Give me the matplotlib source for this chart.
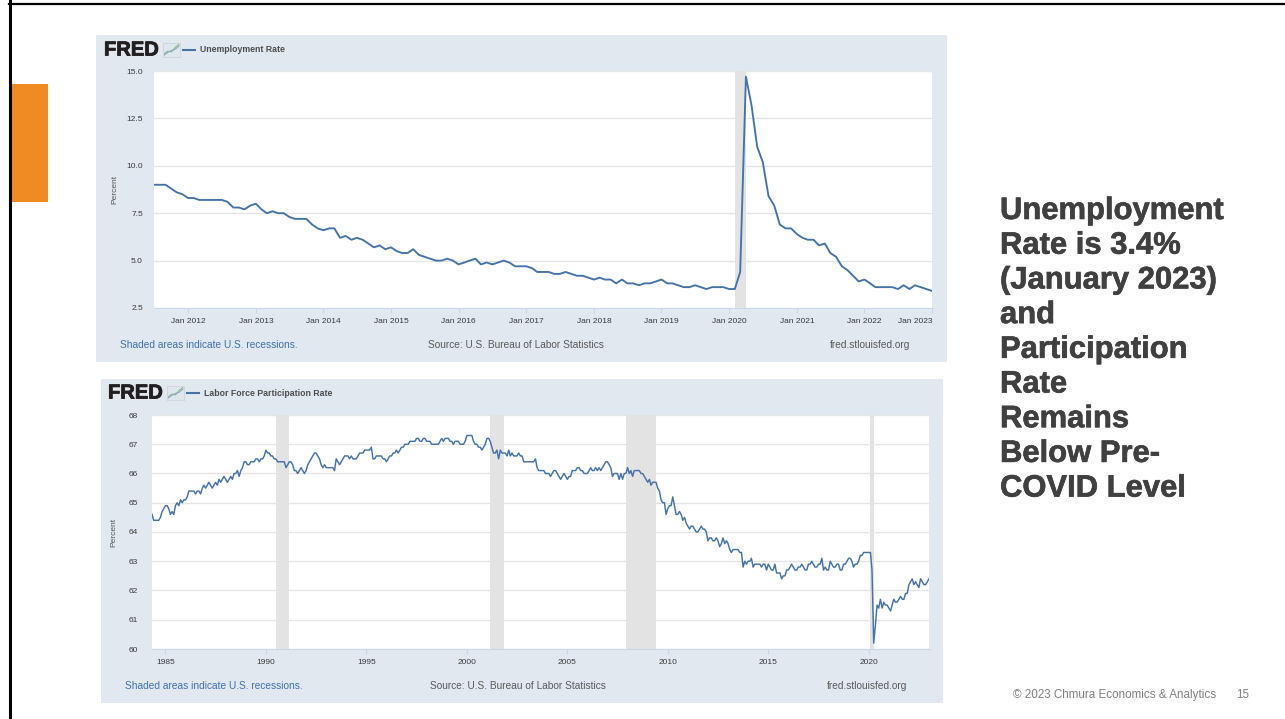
import pandas as pd
import matplotlib.pyplot as plt
import matplotlib.dates as mdates
import matplotlib.patheffects as pe
from matplotlib.patches import Rectangle
from matplotlib.lines import Line2D

plt.rcParams['font.family'] = ['Liberation Sans', 'DejaVu Sans']

W, H = 1285, 719

# Civilian unemployment rate (%), monthly from Jul 2011 to Jan 2023
unrate_start = '2011-07-01'
unrate = [
    9.0, 9.0, 9.0, 8.8, 8.6, 8.5,                                # 2011
    8.3, 8.3, 8.2, 8.2, 8.2, 8.2, 8.2, 8.1, 7.8, 7.8, 7.7, 7.9,  # 2012
    8.0, 7.7, 7.5, 7.6, 7.5, 7.5, 7.3, 7.2, 7.2, 7.2, 6.9, 6.7,  # 2013
    6.6, 6.7, 6.7, 6.2, 6.3, 6.1, 6.2, 6.1, 5.9, 5.7, 5.8, 5.6,  # 2014
    5.7, 5.5, 5.4, 5.4, 5.6, 5.3, 5.2, 5.1, 5.0, 5.0, 5.1, 5.0,  # 2015
    4.8, 4.9, 5.0, 5.1, 4.8, 4.9, 4.8, 4.9, 5.0, 4.9, 4.7, 4.7,  # 2016
    4.7, 4.6, 4.4, 4.4, 4.4, 4.3, 4.3, 4.4, 4.3, 4.2, 4.2, 4.1,  # 2017
    4.0, 4.1, 4.0, 4.0, 3.8, 4.0, 3.8, 3.8, 3.7, 3.8, 3.8, 3.9,  # 2018
    4.0, 3.8, 3.8, 3.7, 3.6, 3.6, 3.7, 3.6, 3.5, 3.6, 3.6, 3.6,  # 2019
    3.5, 3.5, 4.4, 14.7, 13.2, 11.0, 10.2, 8.4, 7.9, 6.9, 6.7, 6.7,  # 2020
    6.4, 6.2, 6.1, 6.1, 5.8, 5.9, 5.4, 5.2, 4.7, 4.5, 4.2, 3.9,  # 2021
    4.0, 3.8, 3.6, 3.6, 3.6, 3.6, 3.5, 3.7, 3.5, 3.7, 3.6, 3.5,  # 2022
    3.4,                                                         # 2023
]

# Labor force participation rate (%), monthly from May 1984 to Jan 2023
civpart_start = '1984-05-01'
civpart = [
    64.6, 64.4, 64.4, 64.4, 64.4, 64.5, 64.7, 64.8,                    # 1984
    64.9, 64.9, 64.8, 64.6, 64.7, 64.6, 64.9, 65.0, 64.9, 65.1, 65.0, 65.1,  # 1985
    65.1, 65.2, 65.4, 65.4, 65.4, 65.4, 65.3, 65.4, 65.4, 65.3, 65.5, 65.6,  # 1986
    65.5, 65.6, 65.7, 65.6, 65.5, 65.6, 65.7, 65.6, 65.8, 65.7, 65.8, 65.9,  # 1987
    65.8, 65.7, 65.8, 65.9, 65.8, 66.0, 66.0, 66.1, 65.9, 66.1, 66.2, 66.4,  # 1988
    66.4, 66.3, 66.3, 66.4, 66.4, 66.4, 66.5, 66.5, 66.4, 66.5, 66.5, 66.6,  # 1989
    66.8, 66.7, 66.7, 66.6, 66.6, 66.5, 66.5, 66.4, 66.4, 66.4, 66.4, 66.4,  # 1990
    66.2, 66.3, 66.4, 66.4, 66.3, 66.1, 66.1, 66.0, 66.1, 66.2, 66.1, 66.0,  # 1991
    66.1, 66.3, 66.4, 66.5, 66.6, 66.7, 66.7, 66.6, 66.5, 66.3, 66.2, 66.3,  # 1992
    66.2, 66.2, 66.2, 66.2, 66.2, 66.1, 66.5, 66.4, 66.3, 66.4, 66.5, 66.6,  # 1993
    66.6, 66.6, 66.5, 66.6, 66.5, 66.5, 66.5, 66.6, 66.7, 66.7, 66.7, 66.8,  # 1994
    66.8, 66.8, 66.8, 66.9, 66.5, 66.5, 66.6, 66.6, 66.6, 66.6, 66.5, 66.5,  # 1995
    66.4, 66.5, 66.6, 66.6, 66.7, 66.7, 66.8, 66.7, 66.8, 66.9, 66.9, 67.0,  # 1996
    67.0, 67.0, 67.1, 67.1, 67.1, 67.1, 67.2, 67.2, 67.1, 67.1, 67.2, 67.2,  # 1997
    67.1, 67.1, 67.1, 67.0, 67.0, 67.0, 67.0, 67.0, 67.1, 67.2, 67.1, 67.2,  # 1998
    67.2, 67.2, 67.1, 67.1, 67.0, 67.1, 67.1, 67.1, 67.0, 67.0, 67.0, 67.1,  # 1999
    67.3, 67.3, 67.3, 67.3, 67.1, 67.0, 67.0, 66.9, 66.9, 66.8, 66.9, 67.0,  # 2000
    67.2, 67.2, 67.1, 66.9, 66.7, 66.7, 66.8, 66.5, 66.8, 66.7, 66.7, 66.7,  # 2001
    66.6, 66.8, 66.6, 66.7, 66.6, 66.6, 66.6, 66.7, 66.6, 66.6, 66.4, 66.4,  # 2002
    66.4, 66.4, 66.4, 66.4, 66.4, 66.5, 66.2, 66.1, 66.1, 66.1, 66.1, 66.0,  # 2003
    66.0, 66.0, 65.9, 66.0, 66.1, 66.1, 66.0, 65.9, 65.8, 65.9, 66.0, 65.9,  # 2004
    65.8, 65.9, 65.9, 66.1, 66.1, 66.1, 66.2, 66.2, 66.1, 66.1, 66.0, 66.0,  # 2005
    66.0, 66.1, 66.2, 66.1, 66.1, 66.2, 66.1, 66.2, 66.1, 66.2, 66.3, 66.4,  # 2006
    66.4, 66.3, 66.2, 65.9, 66.0, 66.0, 66.0, 65.8, 66.0, 65.8, 66.0, 66.0,  # 2007
    66.2, 66.0, 66.1, 65.9, 66.1, 66.1, 66.1, 66.1, 66.0, 66.0, 65.9, 65.8,  # 2008
    65.7, 65.8, 65.6, 65.7, 65.7, 65.7, 65.5, 65.4, 65.1, 65.0, 65.0, 64.6,  # 2009
    64.8, 64.9, 64.9, 65.2, 64.9, 64.6, 64.6, 64.7, 64.6, 64.4, 64.5, 64.3,  # 2010
    64.2, 64.1, 64.2, 64.2, 64.1, 64.0, 64.0, 64.1, 64.2, 64.1, 64.1, 64.0,  # 2011
    63.7, 63.8, 63.8, 63.7, 63.7, 63.8, 63.7, 63.5, 63.6, 63.8, 63.6, 63.7,  # 2012
    63.6, 63.4, 63.3, 63.4, 63.4, 63.4, 63.4, 63.3, 63.3, 62.8, 63.0, 62.9,  # 2013
    63.0, 63.0, 63.1, 62.8, 62.9, 62.9, 62.9, 62.9, 62.8, 62.9, 62.9, 62.7,  # 2014
    62.9, 62.8, 62.7, 62.7, 62.9, 62.6, 62.6, 62.6, 62.4, 62.5, 62.5, 62.7,  # 2015
    62.7, 62.8, 62.9, 62.8, 62.7, 62.7, 62.8, 62.8, 62.9, 62.8, 62.7, 62.7,  # 2016
    62.9, 62.9, 63.0, 62.9, 62.8, 62.8, 62.9, 62.9, 63.1, 62.7, 62.8, 62.7,  # 2017
    62.7, 63.0, 62.9, 62.8, 62.8, 62.9, 62.9, 62.7, 62.7, 62.9, 62.9, 63.0,  # 2018
    63.1, 63.1, 63.0, 62.8, 62.9, 62.9, 63.0, 63.2, 63.2, 63.3, 63.3, 63.3,  # 2019
    63.3, 63.3, 62.7, 60.2, 60.8, 61.5, 61.4, 61.7, 61.4, 61.6, 61.5, 61.5,  # 2020
    61.4, 61.3, 61.5, 61.7, 61.6, 61.6, 61.7, 61.8, 61.7, 61.7, 61.9, 61.9,  # 2021
    62.2, 62.3, 62.4, 62.2, 62.3, 62.2, 62.1, 62.4, 62.3, 62.2, 62.2, 62.3,  # 2022
    62.4,                                                                    # 2023
]

# NBER recessions (peak to trough)
recessions = [
    ('1990-07-01', '1991-03-01'),
    ('2001-03-01', '2001-11-01'),
    ('2007-12-01', '2009-06-01'),
    ('2020-02-01', '2020-04-01'),
]

unrate_yticks = [2.5, 5.0, 7.5, 10.0, 12.5, 15.0]
civpart_yticks = [60, 61, 62, 63, 64, 65, 66, 67, 68]
unrate_xtick_years = list(range(2012, 2024))
civpart_xtick_years = list(range(1985, 2021, 5))

side_lines = ['Unemployment', 'Rate is 3.4%', '(January 2023)', 'and',
              'Participation', 'Rate', 'Remains', 'Below Pre-', 'COVID Level']

LINE_BLUE = '#4572a7'
PANEL_BG = '#e1e8f0'
SHADE = '#e3e3e3'
GRID = '#e6e6e6'
AXIS = '#ccd6eb'
TICK_TXT = '#3a3a3a'


def fx(x):
    return x / W


def fy(y):
    return 1 - y / H


def heavy(color, width):
    # thicken bold glyphs a little
    return [pe.withStroke(linewidth=width, foreground=color)]


def add_rect(fig, x0, y0, x1, y1, color, z=-1):
    fig.patches.append(Rectangle((fx(x0), fy(y1)), (x1 - x0) / W, (y1 - y0) / H,
                                 transform=fig.transFigure, color=color,
                                 zorder=z, linewidth=0))


def fred_panel(fig, box, plot_box, title, header_y, logo_x, foot_y, foot_x):
    # panel background
    add_rect(fig, *box, PANEL_BG)

    # logo and series legend
    fig.text(fx(logo_x), fy(header_y), 'FRED', fontsize=14.5, fontweight='bold',
             color='#231f20', va='center', ha='left',
             path_effects=heavy('#231f20', 0.6))
    icon = fig.add_axes([fx(logo_x + 59), fy(header_y + 7), 17 / W, 14 / H])
    icon.set_facecolor('#dfe6ee')
    icon.plot([0, 1, 2, 3, 4], [0.5, 1.2, 1.0, 2.2, 2.9], color='#8fbf73', lw=0.8)
    icon.plot([0, 1, 2, 3, 4], [0.2, 0.9, 1.4, 1.7, 2.5], color='#8ba8cf', lw=0.8)
    icon.set_xlim(-0.3, 4.3)
    icon.set_ylim(-0.3, 3.3)
    icon.set_xticks([])
    icon.set_yticks([])
    for s in icon.spines.values():
        s.set_color('#c9d3de')
        s.set_linewidth(0.5)
    fig.add_artist(Line2D([fx(logo_x + 79), fx(logo_x + 91)], [fy(header_y)] * 2,
                          color=LINE_BLUE, lw=1.5))
    fig.text(fx(logo_x + 96), fy(header_y), title, fontsize=6.3, fontweight='bold',
             color='#4d4d4d', va='center', ha='left')

    # footer
    fig.text(fx(foot_x[0]), fy(foot_y), 'Shaded areas indicate U.S. recessions.',
             fontsize=7.3, color='#3f6fb0', va='center', ha='left')
    fig.text(fx(foot_x[1]), fy(foot_y), 'Source: U.S. Bureau of Labor Statistics',
             fontsize=7.3, color='#5a5a5a', va='center', ha='left')
    fig.text(fx(foot_x[2]), fy(foot_y), 'fred.stlouisfed.org',
             fontsize=7.3, color='#5a5a5a', va='center', ha='right')

    x0, y0, x1, y1 = plot_box
    ax = fig.add_axes([fx(x0), fy(y1), (x1 - x0) / W, (y1 - y0) / H])
    ax.set_facecolor('white')
    for side in ['top', 'right', 'left']:
        ax.spines[side].set_visible(False)
    ax.spines['bottom'].set_color(AXIS)
    ax.spines['bottom'].set_linewidth(0.8)
    ax.yaxis.grid(True, color=GRID, lw=1.0)
    ax.set_axisbelow(True)
    ax.tick_params(axis='y', length=0, labelsize=6, labelcolor=TICK_TXT, pad=8)
    ax.tick_params(axis='x', length=3.5, width=0.8, color=AXIS, labelsize=6,
                   labelcolor=TICK_TXT, pad=3.5)
    ax.set_ylabel('Percent', fontsize=6, color='#555555', labelpad=6)
    for start, end in recessions:
        ax.axvspan(pd.Timestamp(start), pd.Timestamp(end), color=SHADE, lw=0, zorder=1)
    return ax


fig = plt.figure(figsize=(W / 100, H / 100), dpi=100)
fig.patch.set_facecolor('white')

# slide frame and accent bar
fig.add_artist(Line2D([fx(9.5), fx(9.5)], [0, 1], color='black', lw=2.2))
fig.add_artist(Line2D([fx(9), 1], [fy(4), fy(4)], color='black', lw=1.6))
add_rect(fig, 10, 84, 48, 202, '#ef8b22', z=1)

# unemployment rate panel
ax1 = fred_panel(fig, (96, 35, 947, 362), (154, 71, 932, 308), 'Unemployment Rate',
                 header_y=50, logo_x=104, foot_y=345, foot_x=(120, 428, 910))
u_dates = pd.date_range(unrate_start, periods=len(unrate), freq='MS')
ax1.plot(u_dates, unrate, color=LINE_BLUE, lw=1.35, zorder=3)
ax1.set_xlim(pd.Timestamp(unrate_start), u_dates[-1])
ax1.set_ylim(unrate_yticks[0], unrate_yticks[-1])
ax1.set_yticks(unrate_yticks)
ax1.set_yticklabels([f'{v:.1f}' for v in unrate_yticks])
u_ticks = [pd.Timestamp(f'{y}-01-01') for y in unrate_xtick_years]
ax1.set_xticks(u_ticks)
ax1.set_xticklabels([f'Jan {y}' for y in unrate_xtick_years])
ax1.get_xticklabels()[-1].set_ha('right')

# labor force participation panel
ax2 = fred_panel(fig, (101, 379, 943, 703), (152, 415, 929, 649),
                 'Labor Force Participation Rate',
                 header_y=393, logo_x=108, foot_y=686, foot_x=(125, 430, 907))
c_dates = pd.date_range(civpart_start, periods=len(civpart), freq='MS')
ax2.plot(c_dates, civpart, color=LINE_BLUE, lw=1.05, zorder=3)
ax2.set_xlim(pd.Timestamp(civpart_start), c_dates[-1])
ax2.set_ylim(civpart_yticks[0], civpart_yticks[-1])
ax2.set_yticks(civpart_yticks)
ax2.tick_params(axis='y', pad=10)
ax2.set_xticks([pd.Timestamp(f'{y}-01-01') for y in civpart_xtick_years])
ax2.xaxis.set_major_formatter(mdates.DateFormatter('%Y'))
ax2.yaxis.labelpad = 8

# headline text
for i, line in enumerate(side_lines):
    fig.text(fx(1000), fy(211 + i * 34.7), line, fontsize=22.3, fontweight='bold',
             color='#404040', va='center', ha='left',
             path_effects=heavy('#404040', 0.45))

fig.text(fx(1216), fy(695), '\u00a9 2023 Chmura Economics & Analytics', fontsize=8.4,
         color='#808080', va='center', ha='right')
fig.text(fx(1249), fy(695), '15', fontsize=8.4, color='#808080', va='center', ha='right')

fig.savefig('out.png', dpi=100)
